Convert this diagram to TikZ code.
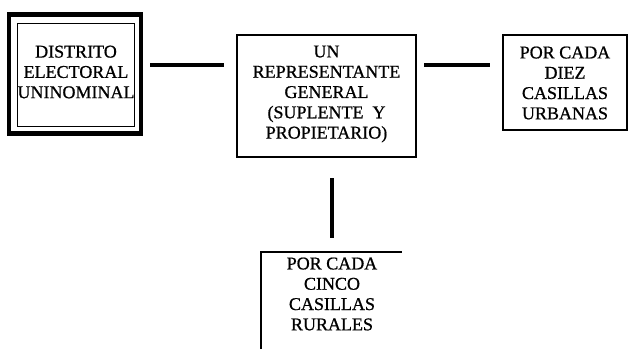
\documentclass[tikz,border=0pt]{standalone}
\usepackage{fontspec}
\setmainfont{Liberation Serif}
\newfontfamily\scanfont[FakeBold=0.8]{Liberation Serif}
\begin{document}
\begin{tikzpicture}[x=1pt,y=-1pt,
  boxtext/.style={align=center,font=\scanfont\fontsize{18}{20.3}\selectfont,inner sep=0pt},
  framebox/.style={draw,line width=1.3pt,inner sep=0pt},
  link/.style={line width=4pt}]
\useasboundingbox (0,0) rectangle (628,349);
% left double frame box
\node[draw,line width=4.5pt,minimum width=132pt,minimum height=119pt,inner sep=0pt] (dist) at (75,74) {};
\draw[line width=1pt] (17,23) rectangle (134,126);
\node[boxtext] (disttext) at (76,72) {DISTRITO\\ELECTORAL\\UNINOMINAL};
% central box
\node[framebox,minimum width=179pt,minimum height=122pt] (rep) at (326.5,96) {};
\node[boxtext] (reptext) at (326.5,94) {UN\\REPRESENTANTE\\GENERAL\\(SUPLENTE\ \ Y\\PROPIETARIO)};
% right box
\node[framebox,minimum width=124pt,minimum height=95pt] (urb) at (565,82.5) {};
\node[boxtext] (urbtext) at (565,83) {POR CADA\\DIEZ\\CASILLAS\\URBANAS};
% bottom box (cut at the bottom)
\coordinate (bl) at (261,349);
\coordinate (tl) at (261,252);
\coordinate (tr) at (402,252);
\draw[line width=1.3pt] (bl) -- (tl) -- (tr);
\node[boxtext] (rurtext) at (332,294) {POR CADA\\CINCO\\CASILLAS\\RURALES};
% connectors
\coordinate (a1) at (150,65);
\coordinate (a2) at (224,65);
\coordinate (b1) at (424,65);
\coordinate (b2) at (490,65);
\coordinate (c1) at (332,178);
\coordinate (c2) at (332,238);
\draw[link] (a1) -- (a2);
\draw[link,line width=3.5pt] (b1) -- (b2);
\draw[link] (c1) -- (c2);
\end{tikzpicture}
\end{document}
